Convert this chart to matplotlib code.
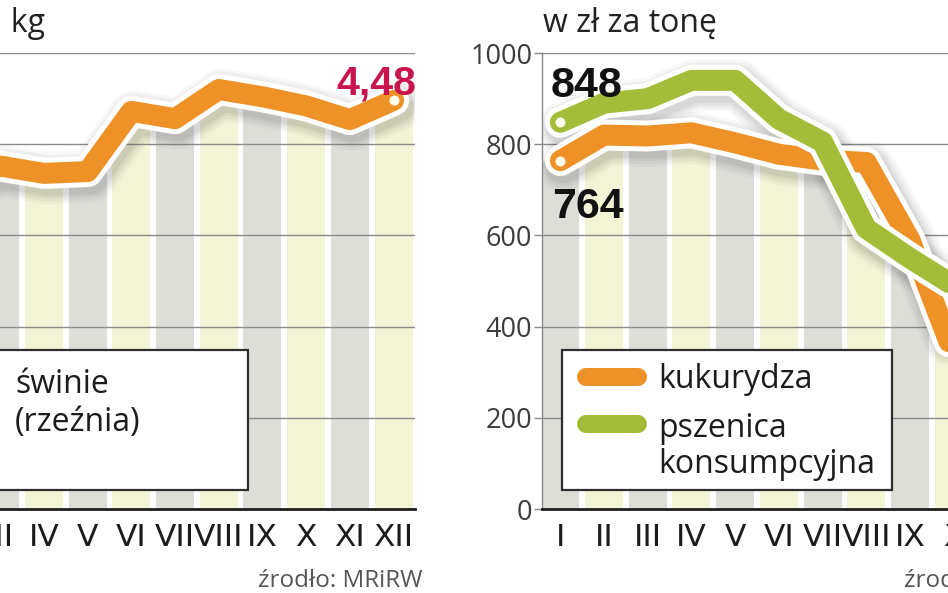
import numpy as np
import matplotlib
matplotlib.use('Agg')
import matplotlib.pyplot as plt
from matplotlib.patches import Rectangle
from matplotlib.lines import Line2D
import matplotlib.transforms as mtransforms

# ---------------- data ----------------
months = ['I', 'II', 'III', 'IV', 'V', 'VI', 'VII', 'VIII', 'IX', 'X', 'XI', 'XII']
pig_price = [3.40, 3.55, 3.76, 3.68, 3.70, 4.36, 4.28, 4.60, 4.52, 4.42, 4.27, 4.48]
corn_price = [764, 820, 818, 825, 803, 778, 765, 760, 590, 340, 330, 335]
wheat_price = [848, 890, 900, 940, 940, 855, 805, 615, 550, 490, 470, 465]
pig_yticks = [0, 1, 2, 3, 4, 5]
grain_yticks = [0, 200, 400, 600, 800, 1000]

# ---------------- style ----------------
ORANGE = '#EE9127'
GREEN = '#A3BD38'
GRAYC = '#DEDED9'
YELC = '#F3F3D6'
GRID = '#8a8a8a'
RED = '#C8154B'
NARROW = ['Liberation Sans Narrow', 'DejaVu Sans']
SANS = ['Open Sans', 'DejaVu Sans']
BOLD = ['Liberation Sans', 'DejaVu Sans']
PT = 0.72  # points per pixel at dpi 100

W, H = 948, 593
fig = plt.figure(figsize=(W / 100, H / 100), dpi=100)
fig.patch.set_facecolor('white')


def fpx(x, y):
    return (x / W, 1 - y / H)


AX_W, AX_H = 520.5, 456
axL = fig.add_axes([-105.5 / W, (H - 509) / H, AX_W / W, AX_H / H])
axR = fig.add_axes([542 / W, (H - 509) / H, AX_W / W, AX_H / H])

X = np.arange(len(months))
XLO, XHI = -0.42, 11.49


def base(ax, ymax, yticks):
    ax.set_xlim(XLO, XHI)
    ax.set_ylim(0, ymax)
    ax.set_facecolor('white')
    for s in ('top', 'right'):
        ax.spines[s].set_visible(False)
    ax.spines['bottom'].set_color('#1e1e1e')
    ax.spines['bottom'].set_linewidth(2.0)
    ax.spines['bottom'].set_zorder(8)
    ax.spines['left'].set_color(GRID)
    ax.spines['left'].set_linewidth(1.0)
    ax.spines['left'].set_zorder(8)
    ax.set_xticks(X)
    ax.set_xticklabels(months, fontfamily=NARROW, fontsize=22.5, color='#1c1c1c')
    ax.tick_params(axis='x', length=0, pad=10)
    ax.set_yticks(yticks)
    ax.set_yticklabels([str(t) for t in yticks], fontfamily=SANS, fontsize=19.5,
                       color='#3c3c3c')
    ax.tick_params(axis='y', length=6, width=1, color=GRID, pad=1)
    for i in X:
        ax.bar(i, ymax, width=0.87, color=GRAYC if i % 2 == 0 else YELC,
               zorder=1, linewidth=0)
    for t in yticks[1:]:
        ax.axhline(t, color=GRID, lw=1.0, zorder=3)


def cover(ax, series, ymax):
    xs = np.r_[XLO, X, XHI]
    ys = np.r_[series[0], series, series[-1]]
    ax.fill_between(xs, ys, ymax, color='white', lw=0, zorder=2)


def draw_line(ax, series, color):
    tr = mtransforms.offset_copy(ax.transData, fig=fig, x=3, y=-5, units='dots')
    for w, a in [(52, 0.035), (46, 0.05), (40, 0.06), (35, 0.07)]:
        ax.plot(X, series, color='#3a3a3a', lw=w * PT, alpha=a,
                solid_capstyle='round', solid_joinstyle='round',
                transform=tr, zorder=4)
    ax.plot(X, series, color='white', lw=31 * PT, solid_capstyle='round',
            solid_joinstyle='round', zorder=5)
    ax.plot(X, series, color=color, lw=21 * PT, solid_capstyle='round',
            solid_joinstyle='round', zorder=5)


# ---------------- left panel: pigs ----------------
base(axL, 5, pig_yticks)
cover(axL, pig_price, 5)
draw_line(axL, pig_price, ORANGE)
axL.plot(X[-1], pig_price[-1], 'o', ms=10 * PT, mfc='#FFFDEB', mec='none', zorder=7)
axL.annotate(f"{pig_price[-1]:.2f}".replace('.', ','), xy=(X[-1], pig_price[-1]),
             xytext=(23, 6), textcoords='offset pixels', ha='right', va='baseline',
             fontsize=29.5, fontweight='bold', color=RED, fontfamily=BOLD, zorder=9)

# ---------------- right panel: grains ----------------
base(axR, 1000, grain_yticks)
cover(axR, corn_price, 1000)
cover(axR, wheat_price, 1000)
draw_line(axR, corn_price, ORANGE)
draw_line(axR, wheat_price, GREEN)
axR.plot(X[0], corn_price[0], 'o', ms=10 * PT, mfc='#FFFDEB', mec='none', zorder=7)
axR.plot(X[0], wheat_price[0], 'o', ms=10 * PT, mfc='#FFFDEB', mec='none', zorder=7)
axR.annotate(f"{wheat_price[0]}", xy=(X[0], wheat_price[0]), xytext=(-10, 25),
             textcoords='offset pixels', ha='left', va='baseline', fontsize=31,
             fontweight='bold', color='#111111', fontfamily=BOLD, zorder=9)
axR.annotate(f"{corn_price[0]}", xy=(X[0], corn_price[0]), xytext=(-8, -57),
             textcoords='offset pixels', ha='left', va='baseline', fontsize=31,
             fontweight='bold', color='#111111', fontfamily=BOLD, zorder=9)


# ---------------- legends ----------------
def box(x0, y0, x1, y1):
    r = Rectangle(fpx(x0, y1), (x1 - x0) / W, (y1 - y0) / H, transform=fig.transFigure,
                  facecolor='white', edgecolor='#2e2e2e', lw=1.6, zorder=10)
    fig.add_artist(r)


def legline(x0, x1, y, color):
    ln = Line2D([x0 / W, x1 / W], [1 - y / H, 1 - y / H], transform=fig.transFigure,
                color=color, lw=18 * PT, solid_capstyle='round', zorder=11)
    fig.add_artist(ln)


def ftext(x, y, s, **kw):
    fig.text(x / W, 1 - y / H, s, **kw)


LEGFS = 23
box(-91, 350, 248, 490)
legline(-60, -4, 380, ORANGE)
ftext(15, 393, 'świnie', fontsize=LEGFS, color='#1c1c1c', fontfamily=SANS,
      va='baseline', zorder=12)
ftext(15, 431, '(rzeźnia)', fontsize=LEGFS, color='#1c1c1c', fontfamily=SANS,
      va='baseline', zorder=12)

box(562, 350, 892, 490)
legline(586, 638, 377, ORANGE)
legline(586, 638, 424, GREEN)
ftext(658, 388, 'kukurydza', fontsize=LEGFS, color='#1c1c1c', fontfamily=SANS,
      va='baseline', zorder=12)
ftext(658, 437, 'pszenica', fontsize=LEGFS, color='#1c1c1c', fontfamily=SANS,
      va='baseline', zorder=12)
ftext(658, 473, 'konsumpcyjna', fontsize=LEGFS, color='#1c1c1c', fontfamily=SANS,
      va='baseline', zorder=12)

# ---------------- titles & sources ----------------
ftext(45, 32, 'w zł za kg', ha='right', va='baseline', fontsize=23, color='#222222',
      fontfamily=SANS)
ftext(543, 32, 'w zł za tonę', ha='left', va='baseline', fontsize=23, color='#222222',
      fontfamily=SANS)
ftext(422, 587, 'źrodło: MRiRW', ha='right', va='baseline', fontsize=17.5,
      color='#555555', fontfamily=SANS)
ftext(1069, 587, 'źrodło: MRiRW', ha='right', va='baseline', fontsize=17.5,
      color='#555555', fontfamily=SANS)

fig.savefig('out.png', dpi=100)
